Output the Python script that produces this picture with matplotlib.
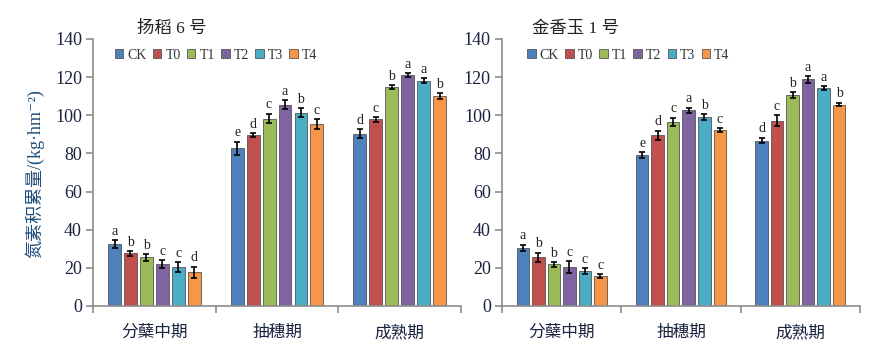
import numpy as np
import matplotlib
matplotlib.use("Agg")
from matplotlib import pyplot as plt
from matplotlib.patches import Patch

plt.rcParams['font.family'] = ['Liberation Serif', 'Noto Sans CJK SC', 'DejaVu Sans']

stages = ['分蘖中期', '抽穗期', '成熟期']
treatments = ['CK', 'T0', 'T1', 'T2', 'T3', 'T4']
colors = ['#4F81BD', '#C0504D', '#9BBB59', '#8064A2', '#4BACC6', '#F79646']

# 扬稻 6 号: rows = treatments, cols = stages
yd_mean = [[32.5, 82.6, 90.4],
           [27.6, 89.6, 97.9],
           [25.5, 98.3, 114.9],
           [21.9, 105.6, 120.9],
           [20.3, 101.4, 118.1],
           [17.7, 95.4, 110.0]]
yd_err = [[2.0, 3.5, 2.2],
          [1.3, 1.2, 1.3],
          [1.8, 2.5, 1.0],
          [2.0, 2.3, 1.0],
          [2.7, 2.2, 1.2],
          [3.0, 2.5, 1.5]]
yd_sig = [['a', 'e', 'd'],
          ['b', 'd', 'c'],
          ['b', 'c', 'b'],
          ['c', 'a', 'a'],
          ['c', 'b', 'a'],
          ['d', 'c', 'b']]

# 金香玉 1 号
jx_mean = [[30.4, 79.3, 86.7],
           [25.6, 89.5, 97.2],
           [21.9, 96.5, 110.5],
           [20.4, 102.5, 118.8],
           [18.4, 99.1, 114.4],
           [15.8, 92.3, 105.6]]
jx_err = [[1.8, 1.5, 1.5],
          [2.3, 2.5, 3.0],
          [1.2, 2.2, 1.5],
          [3.0, 1.5, 1.8],
          [1.5, 1.5, 1.0],
          [1.0, 1.0, 1.0]]
jx_sig = [['a', 'e', 'd'],
          ['b', 'd', 'c'],
          ['b', 'c', 'b'],
          ['c', 'a', 'a'],
          ['c', 'b', 'a'],
          ['c', 'c', 'b']]

txt = '#1a2340'
axcol = '#8c8c8c'

fig = plt.figure(figsize=(8.72, 3.48), dpi=100)
ax1 = fig.add_axes([0.1067, 0.1207, 0.422, 0.7673])
ax2 = fig.add_axes([0.5757, 0.1207, 0.4105, 0.7673])

def draw(ax, mean, err, sig, title, tx, lx):
    x = np.arange(len(stages))
    step = 0.13
    w = 0.105
    for i in range(len(treatments)):
        pos = x + (i - 2.5) * step
        ax.bar(pos, mean[i], w, color=colors[i], edgecolor='#555555', linewidth=0.6,
               yerr=err[i], error_kw=dict(ecolor='black', elinewidth=1.2, capsize=2.5, capthick=1.2))
        for p, m, e, s in zip(pos, mean[i], err[i], sig[i]):
            ax.text(p, m + e + 1.2, s, ha='center', va='bottom', fontsize=10, color='#222222')
    ax.set_xlim(-0.5, 2.5)
    ax.set_ylim(0, 140)
    ax.set_yticks(range(0, 141, 20))
    ax.set_xticks([-0.5, 0.5, 1.5, 2.5])
    ax.set_xticklabels([])
    ax.tick_params(axis='x', length=5, color=axcol, width=1.2)
    ax.tick_params(axis='y', length=5, color=axcol, width=1.2, labelsize=13, labelcolor=txt, pad=3)
    for i, s in enumerate(stages):
        ax.text(i, -10, s, ha='center', va='top', fontsize=12, color=txt)
    for sp in ['top', 'right']:
        ax.spines[sp].set_visible(False)
    for sp in ['left', 'bottom']:
        ax.spines[sp].set_color(axcol)
        ax.spines[sp].set_linewidth(1.2)
    ax.text(tx, 1.008, title, transform=ax.transAxes, ha='left', va='bottom',
            fontsize=12.5, color='#222222')
    handles = [Patch(facecolor=c, edgecolor='#555555', linewidth=0.6) for c in colors]
    ax.legend(handles, treatments, loc='upper left', bbox_to_anchor=(lx, 0.985), ncol=6,
              frameon=False, fontsize=10, handlelength=0.6, handleheight=0.6,
              handletextpad=0.3, columnspacing=0.45, borderaxespad=0,
              labelcolor='#333333')

draw(ax1, yd_mean, yd_err, yd_sig, '扬稻 6 号', 0.12, 0.045)
draw(ax2, jx_mean, jx_err, jx_sig, '金香玉 1 号', 0.085, 0.055)

fig.text(0.039, 0.5, '氮素积累量/(kg·hm⁻²)', rotation=90, ha='center', va='center',
         fontsize=13, color='#1F4E79')

fig.savefig('out.png', dpi=100)
